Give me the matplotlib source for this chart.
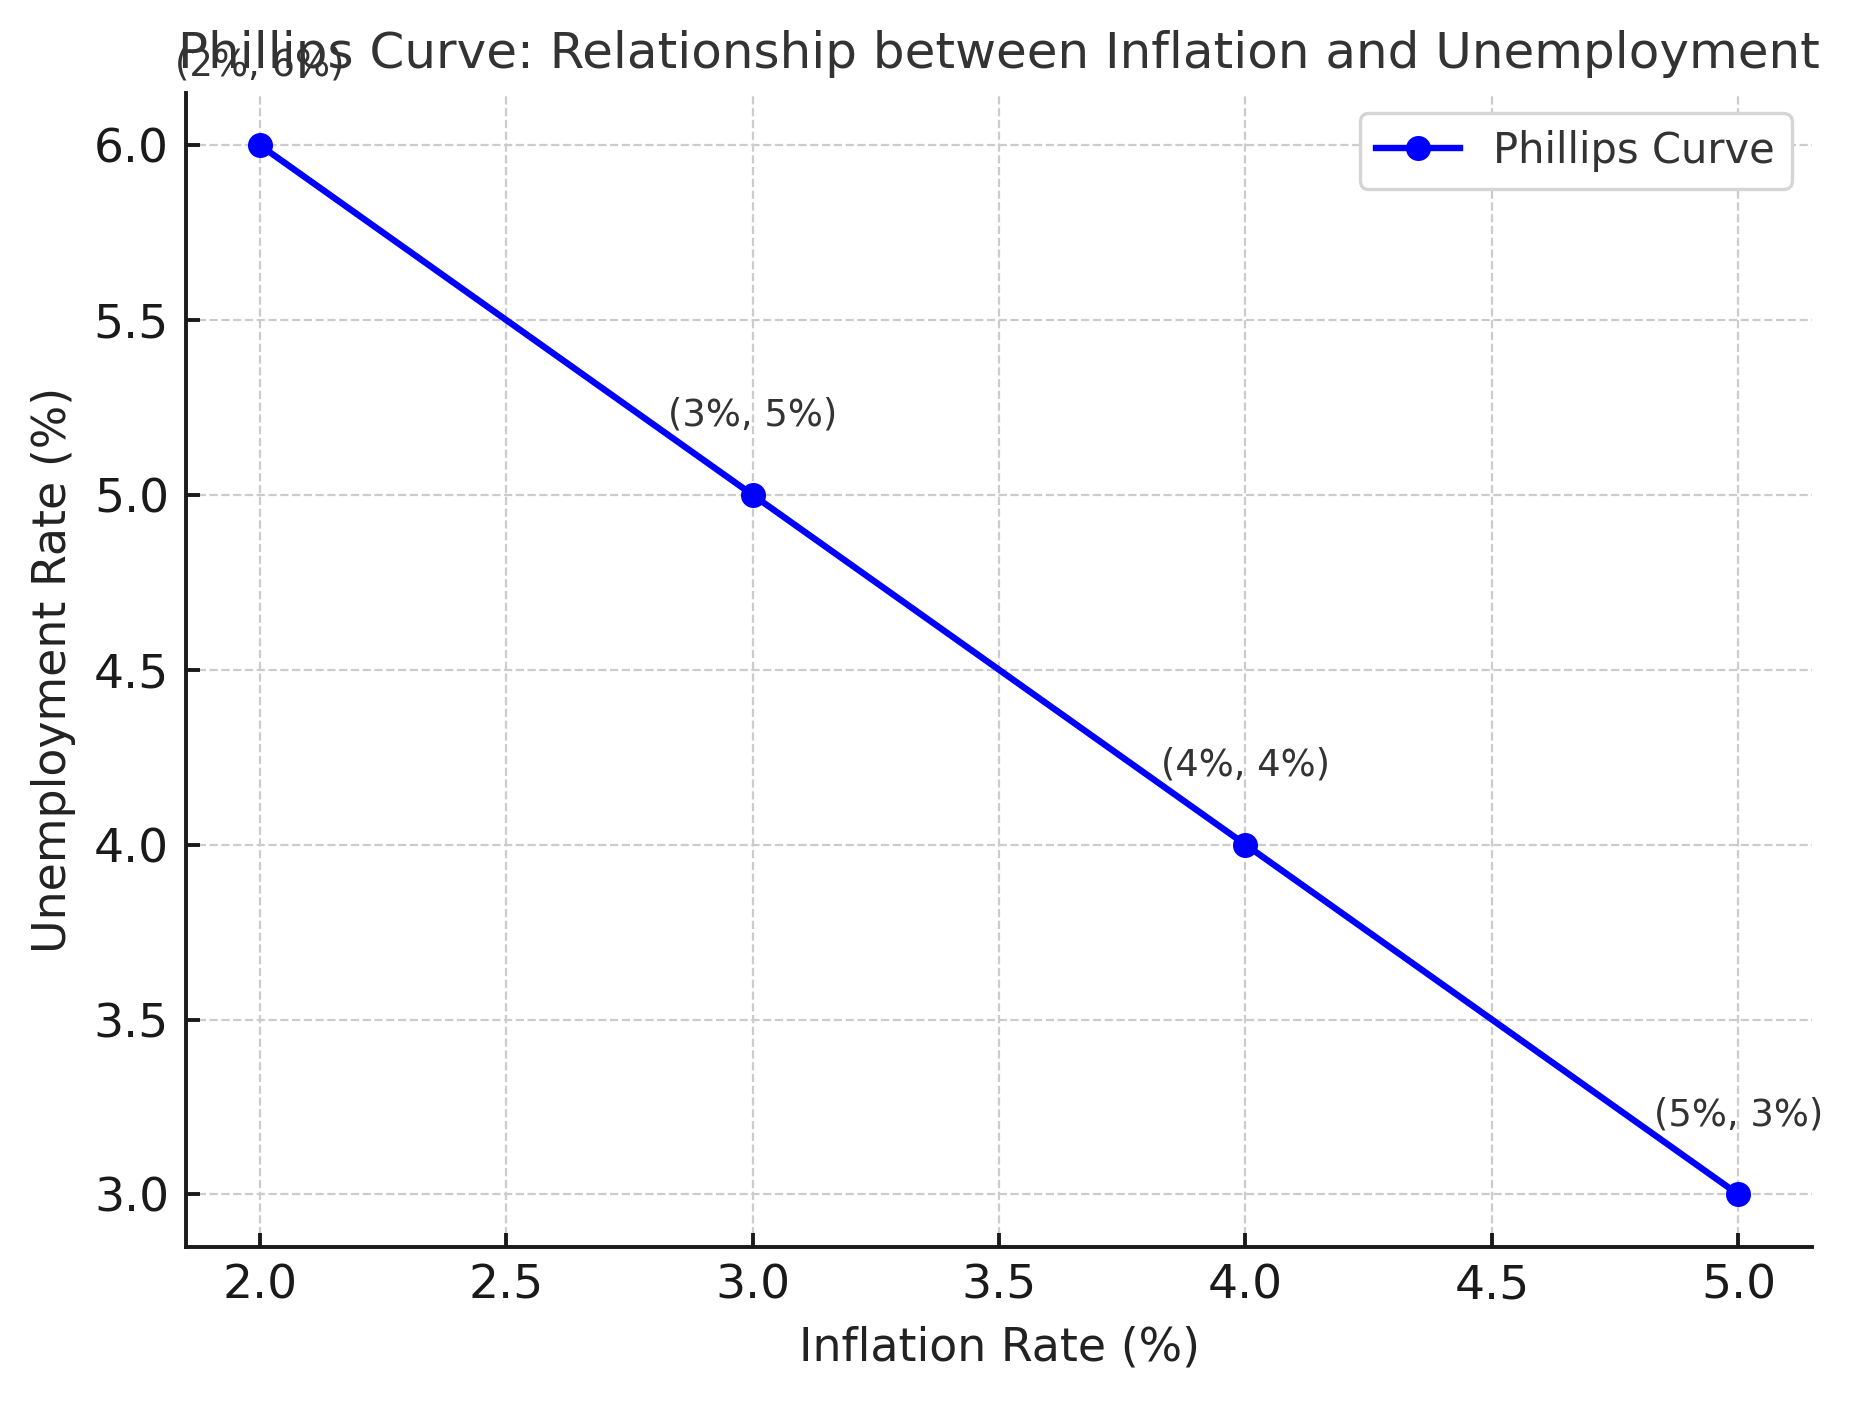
import matplotlib
matplotlib.use("Agg")
import matplotlib.pyplot as plt

# data
inflation = [2, 3, 4, 5]
unemployment = [6, 5, 4, 3]
point_labels = ["(2%, 6%)", "(3%, 5%)", "(4%, 4%)", "(5%, 3%)"]

plt.rcParams['font.family'] = ['DejaVu Sans']

fig = plt.figure(figsize=(9.275, 7.01), dpi=200)
ax = fig.add_axes([0.1001, 0.1106, 0.8769, 0.8234])

ax.plot(inflation, unemployment, marker='o', color='blue', linewidth=2.3,
        markersize=8, label='Phillips Curve')

for x, y, txt in zip(inflation, unemployment, point_labels):
    ax.annotate(txt, (x, y), textcoords='offset points', xytext=(0, 25),
                ha='center', fontsize=13.3, color='#333333')

ax.set_title("Phillips Curve: Relationship between Inflation and Unemployment",
             fontsize=18, color='#333333', pad=9)
ax.set_xlabel("Inflation Rate (%)", fontsize=16.5, color='#222222', labelpad=6)
ax.set_ylabel("Unemployment Rate (%)", fontsize=16.5, color='#222222', labelpad=6.5)

ax.grid(True, linestyle='--', color='#cccccc', linewidth=0.8)
ax.set_axisbelow(True)
for s in ['top', 'right']:
    ax.spines[s].set_visible(False)
for s in ['left', 'bottom']:
    ax.spines[s].set_linewidth(1.4)
    ax.spines[s].set_color('#1a1a1a')
ax.tick_params(direction='in', length=5, width=1.4, labelsize=17,
               colors='#1a1a1a', pad=6)

leg = ax.legend(loc='upper right', fontsize=15, framealpha=1)
leg.get_frame().set_edgecolor('#d5d5d5')
leg.get_frame().set_linewidth(1.2)
for t in leg.get_texts():
    t.set_color('#333333')

fig.savefig("out.png", dpi=200)
